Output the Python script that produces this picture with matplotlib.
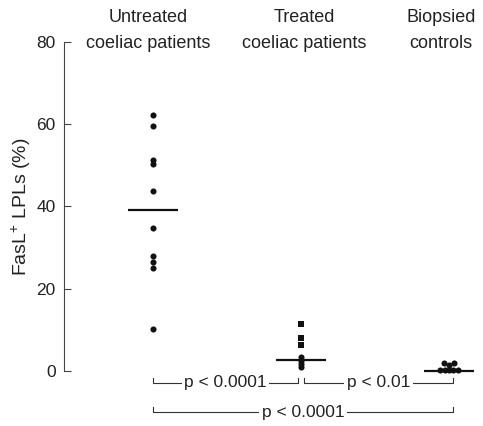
import matplotlib
matplotlib.use("Agg")
import matplotlib.pyplot as plt
import numpy as np

plt.rcParams['font.family'] = ['Liberation Sans', 'DejaVu Sans']
plt.rcParams['mathtext.fontset'] = 'custom'
plt.rcParams['mathtext.rm'] = 'Liberation Sans'

categories = ["Untreated\ncoeliac patients", "Treated\ncoeliac patients", "Biopsied\ncontrols"]
untreated = [62.3, 59.6, 51.3, 50.4, 43.8, 34.8, 28.0, 26.5, 25.1, 10.2]
treated_squares = [11.5, 7.9, 6.2]
treated_circles = [3.4, 2.5, 1.6, 0.9]
controls_top = [1.9, 1.5, 1.9]
controls_bottom = [0.2, 0.3, 0.2, 0.3, 0.2]
medians = [39.2, 2.7, 0.0]
yticks = [0, 20, 40, 60, 80]
comparisons = [(0, 1, "p < 0.0001", -2.9), (1, 2, "p < 0.01", -2.9), (0, 2, "p < 0.0001", -10.0)]

W, H = 483, 426
fig = plt.figure(figsize=(W / 100, H / 100), dpi=100)
ax = fig.add_axes([64 / W, 0, (478 - 64) / W, 384 / H])
px_per_x = 148.0
xl = -(153 - 64) / px_per_x
xr = xl + (478 - 64) / px_per_x
ax.set_xlim(xl, xr)
ax.set_ylim(-13.4, 80)

col = '#111111'
# untreated
ax.plot([0] * len(untreated), untreated, 'o', color=col, ms=4.4, mew=0)
# treated
ax.plot([1] * len(treated_squares), treated_squares, 's', color=col, ms=4.8, mew=0)
ax.plot([1] * len(treated_circles), treated_circles, 'o', color=col, ms=4.4, mew=0)
# controls swarm
def spread(vals, step=0.032):
    n = len(vals)
    return [(i - (n - 1) / 2) * step for i in range(n)]
ax.plot(np.array(spread(controls_top)) + 2.0, controls_top, 'o', color=col, ms=4.4, mew=0)
ax.plot(np.array(spread(controls_bottom, 0.03)) + 2.0, controls_bottom, 'o', color=col, ms=4.4, mew=0)

# medians
for i, m in enumerate(medians):
    ax.plot([i - 0.172, i + 0.172], [m, m], color=col, lw=1.6, solid_capstyle='butt')

# comparison brackets
for a, b, label, yv in comparisons:
    xa = a + (0.02 if a == 1 else 0)
    xb = b + (-0.02 if b == 1 else 0.03)
    ax.plot([xa, xa, xb, xb], [yv + 1.2, yv, yv, yv + 1.2], color='#333333', lw=0.8)
    ax.text((xa + xb) / 2, yv, label, ha='center', va='center', fontsize=12.5,
            color='#222222', bbox=dict(boxstyle='square,pad=0.15', fc='white', ec='none'))

# category labels (two lines each, placed in figure pixels)
label_shift = [-0.03, 0.02, -0.055]
for i, c in enumerate(categories):
    xfig = (64 + (i + label_shift[i] - xl) * px_per_x) / W
    l1, l2 = c.split("\n")
    fig.text(xfig, 1 - 18 / H, l1, ha='center', va='center', fontsize=13, color='#222222')
    fig.text(xfig, 1 - 43 / H, l2, ha='center', va='center', fontsize=13, color='#222222')

ax.spines['top'].set_visible(False)
ax.spines['right'].set_visible(False)
ax.spines['bottom'].set_visible(False)
ax.spines['left'].set_bounds(0, 80)
ax.spines['left'].set_color('#444444')
ax.spines['left'].set_linewidth(0.8)
ax.set_xticks([])
ax.set_yticks(yticks)
ax.set_yticklabels([str(t) for t in yticks])
ax.tick_params(axis='y', direction='in', length=5, width=0.8, color='#444444',
               labelsize=12.5, labelcolor='#222222', pad=6)
ax.set_ylabel(r"FasL$^{\mathregular{+}}$ LPLs (%)", fontsize=14, color='#222222')
ax.yaxis.set_label_coords(-0.075, (40 + 13.4) / 93.4)
ax.patch.set_visible(False)

fig.savefig("out.png", dpi=100)
